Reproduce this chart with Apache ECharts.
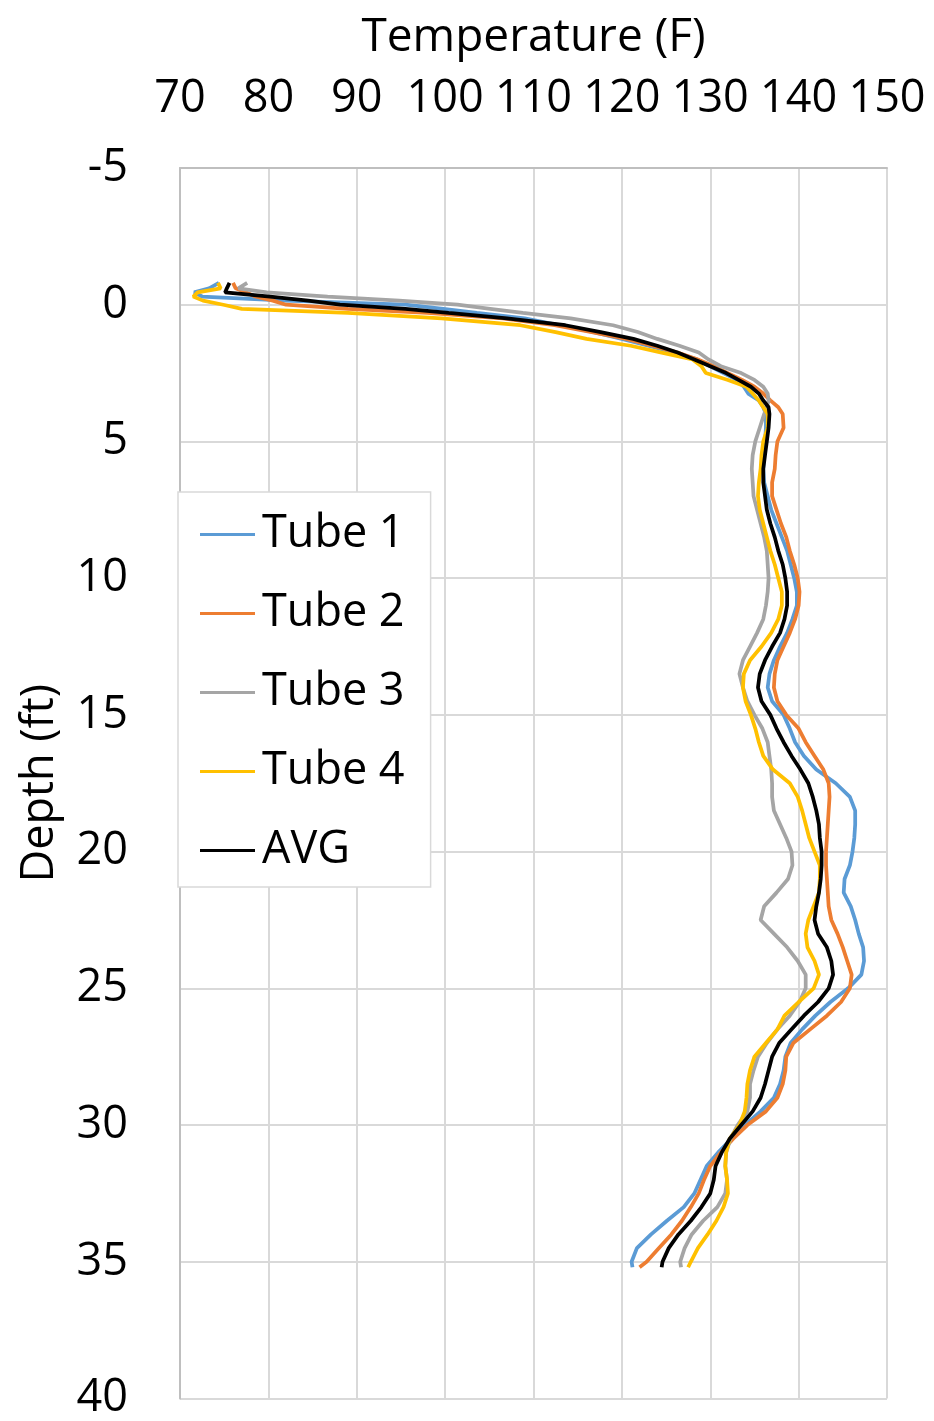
<!DOCTYPE html>
<html>
<head>
<meta charset="utf-8">
<script src="https://cdn.jsdelivr.net/npm/echarts@6/dist/echarts.min.js"></script>
<style>
  html, body { margin: 0; padding: 0; background: #ffffff; }
  #chart { width: 934px; height: 1421px; }
</style>
</head>
<body>
<div id="chart"></div>
<script>
// Depth below the top of the shaft (ft), shared by every profile
const depthFt = [
  -0.8, -0.6, -0.45, -0.3, -0.15, 0, 0.15, 0.3, 0.5, 0.75,
  1, 1.25, 1.5, 1.75, 2, 2.25, 2.5, 2.75, 3, 3.25, 3.5, 3.75, 4,
  4.5, 5, 5.5, 6, 6.5, 7, 7.5, 8, 8.5, 9, 9.5, 10,
  10.5, 11, 11.5, 12, 12.5, 13, 13.5, 14, 14.5, 15,
  15.5, 16, 16.5, 17, 17.5, 18, 18.5, 19, 19.5, 20,
  20.5, 21, 21.5, 22, 22.5, 23, 23.5, 24, 24.5, 25,
  25.5, 26, 26.5, 27, 27.5, 28, 28.5, 29, 29.5, 30,
  30.5, 31, 31.5, 32, 32.5, 33, 33.5, 34, 34.5, 35, 35.2
];

// Temperature (F) at each depth, one list per access tube
const tube1 = [
  74.4, 73.3, 71.6, 72.5, 82.0, 95.5, 99.8, 103.6, 109.0, 113.0,
  116.8, 120.0, 123.0, 126.0, 128.5, 130.0, 131.5, 133.0, 133.8, 134.3, 135.5, 136.0, 136.3,
  136.3, 136.2, 136.1, 136.0, 136.1, 136.5, 136.9, 137.5, 138.1, 138.7, 139.1, 139.5,
  139.8, 139.8, 139.3, 138.7, 137.9, 137.2, 136.7, 136.5, 137.0, 138.3,
  139.0, 139.6, 140.6, 142.0, 144.2, 145.8, 146.4, 146.4, 146.3, 146.1,
  145.8, 145.2, 145.1, 145.9, 146.4, 146.8, 147.3, 147.4, 147.1, 145.6,
  143.6, 141.9, 140.4, 139.1, 138.5, 138.3, 137.9, 137.2, 135.7, 133.9,
  132.4, 130.9, 129.6, 128.9, 128.2, 127.0, 125.1, 123.3, 121.7, 121.1, 121.2
];
const tube2 = [
  76.0, 76.3, 77.5, 78.5, 80.5, 82.0, 89.0, 98.0, 106.5, 112.4,
  116.6, 120.5, 123.5, 126.3, 128.6, 130.4, 132.0, 133.6, 135.0, 136.0, 136.8, 137.7, 138.2,
  138.3, 137.6, 137.4, 137.3, 137.0, 137.0, 137.5, 138.0, 138.6, 139.0, 139.5, 139.9,
  140.1, 140.0, 139.6, 139.0, 138.3, 137.6, 137.3, 137.2, 137.6, 138.6,
  140.0, 140.8, 141.8, 142.8, 143.4, 143.5, 143.4, 143.3, 143.2, 143.1,
  143.1, 143.2, 143.3, 143.4, 143.7, 144.4, 145.0, 145.5, 146.0, 145.8,
  144.8, 143.2, 141.3, 139.4, 138.6, 138.5, 138.2, 137.6, 136.3, 134.2,
  132.6, 131.2, 130.0, 129.3, 128.7, 127.8, 126.8, 125.6, 124.2, 122.8, 122.0
];
const tube3 = [
  77.6, 76.6, 79.8, 86.7, 94.8, 101.4, 105.1, 108.8, 114.2, 119.0,
  121.8, 124.0, 126.5, 128.7, 129.8, 131.2, 133.5, 135.0, 136.0, 136.5, 136.6, 136.4, 136.1,
  135.6, 135.1, 134.8, 134.7, 134.8, 134.9, 135.3, 135.7, 136.1, 136.4, 136.5, 136.6,
  136.5, 136.3, 136.0, 135.3, 134.5, 133.7, 133.3, 133.7, 134.2, 135.0,
  135.9, 136.5, 136.7, 136.9, 137.0, 137.0, 137.2, 137.9, 138.6, 139.2,
  139.3, 138.8, 137.5, 136.1, 135.7, 137.2, 138.7, 139.9, 140.8, 140.8,
  140.1, 139.0, 137.6, 136.4, 135.4, 134.9, 134.5, 134.5, 134.2, 133.1,
  132.3, 131.8, 131.7, 131.9, 131.7, 130.8, 129.2, 127.9, 127.1, 126.6, 126.7
];
const tube4 = [
  74.3, 74.6, 72.0, 71.5, 72.6, 74.9, 77.0, 89.0, 99.6, 108.5,
  112.5, 116.0, 121.0, 124.5, 128.0, 129.0, 129.5, 132.0, 134.1, 134.8, 135.5, 136.0, 136.5,
  136.5, 136.0, 135.8, 135.7, 135.5, 135.4, 135.6, 136.0, 136.4, 136.8, 137.3, 137.7,
  138.1, 138.1, 137.7, 136.9, 135.8, 134.5, 133.8, 133.7, 134.0, 134.6,
  135.1, 135.5, 136.0, 137.1, 139.0, 139.9, 140.4, 140.8, 141.2, 141.8,
  142.4, 142.4, 142.3, 141.7, 141.1, 140.8, 141.0, 141.8, 142.3, 141.7,
  140.0, 138.4, 137.6, 136.3, 135.0, 134.5, 134.2, 134.1, 133.9, 133.3,
  132.2, 131.8, 131.7, 131.9, 132.0, 131.5, 130.7, 129.7, 128.6, 127.8, 127.5
];
const avg = [
  75.6, 75.3, 75.1, 80.2, 84.5, 88.1, 95.5, 100.4, 107.0, 113.6,
  117.6, 121.3, 124.0, 126.3, 128.2, 130.0, 131.8, 133.2, 134.6, 135.5, 136.0, 136.6, 136.7,
  136.6, 136.4, 136.2, 136.0, 136.0, 136.2, 136.4, 136.8, 137.3, 137.7, 138.2, 138.5,
  138.7, 138.7, 138.4, 137.9, 137.0, 136.2, 135.6, 135.4, 135.8, 136.8,
  137.5, 138.3, 139.2, 140.2, 141.1, 141.6, 142.0, 142.3, 142.4, 142.6,
  142.6, 142.5, 142.3, 142.0, 141.8, 142.2, 143.2, 143.7, 143.9, 143.4,
  142.2, 140.6, 139.2, 137.8, 137.0, 136.6, 136.2, 135.7, 134.8, 133.5,
  132.2, 131.3, 130.6, 130.4, 130.0, 129.0, 127.8, 126.4, 125.3, 124.6, 124.5
];

const seriesNames = ['Tube 1', 'Tube 2', 'Tube 3', 'Tube 4', 'AVG'];
const seriesTemps = [tube1, tube2, tube3, tube4, avg];
const seriesColors = ['#5b9bd5', '#ed7d31', '#a5a5a5', '#ffc000', '#000000'];

const FONT = '"Open Sans", "Liberation Sans", sans-serif';

const chart = echarts.init(document.getElementById('chart'), null, { renderer: 'canvas' });

const series = seriesNames.map((name, i) => ({
  name: name,
  type: 'line',
  data: depthFt.map((d, k) => [seriesTemps[i][k], d]),
  showSymbol: false,
  symbol: 'none',
  smooth: false,
  clip: true,
  lineStyle: { color: seriesColors[i], width: 3.75 },
  itemStyle: { color: seriesColors[i] },
  z: 2 + i,
  silent: true,
  animation: false
}));

chart.setOption({
  animation: false,
  backgroundColor: '#ffffff',
  textStyle: { fontFamily: FONT },
  grid: { left: 180, top: 168, right: 47, bottom: 22, containLabel: false },
  xAxis: {
    type: 'value',
    position: 'top',
    min: 70,
    max: 150,
    interval: 10,
    name: 'Temperature (F)',
    nameLocation: 'middle',
    nameGap: 107,
    nameTextStyle: { fontFamily: FONT, fontSize: 46, color: '#000000' },
    axisLine: { show: true, onZero: false, lineStyle: { color: '#bfbfbf', width: 2 } },
    axisTick: { show: false },
    axisLabel: { fontFamily: FONT, fontSize: 45, color: '#000000', margin: 46 },
    splitLine: { show: true, lineStyle: { color: '#d9d9d9', width: 2 } }
  },
  yAxis: {
    type: 'value',
    inverse: true,
    min: -5,
    max: 40,
    interval: 5,
    name: 'Depth (ft)',
    nameLocation: 'middle',
    nameRotate: 90,
    nameGap: 117,
    nameTextStyle: { fontFamily: FONT, fontSize: 45, color: '#000000' },
    axisLine: { show: true, onZero: false, lineStyle: { color: '#bfbfbf', width: 2 } },
    axisTick: { show: false },
    axisLabel: { fontFamily: FONT, fontSize: 45, color: '#000000', margin: 52 },
    splitLine: { show: true, lineStyle: { color: '#d9d9d9', width: 2 } }
  },
  legend: {
    orient: 'vertical',
    left: 178,
    top: 492,
    padding: [20, 26, 14, 22],
    itemGap: 34,
    itemWidth: 55,
    itemHeight: 3,
    icon: 'rect',
    backgroundColor: '#ffffff',
    borderColor: '#d9d9d9',
    borderWidth: 1.5,
    borderRadius: 0,
    textStyle: { fontFamily: FONT, fontSize: 45, color: '#000000', padding: [0, 0, 0, 2] },
    data: seriesNames,
    selectedMode: false,
    z: 10
  },
  series: series
});
</script>
</body>
</html>
